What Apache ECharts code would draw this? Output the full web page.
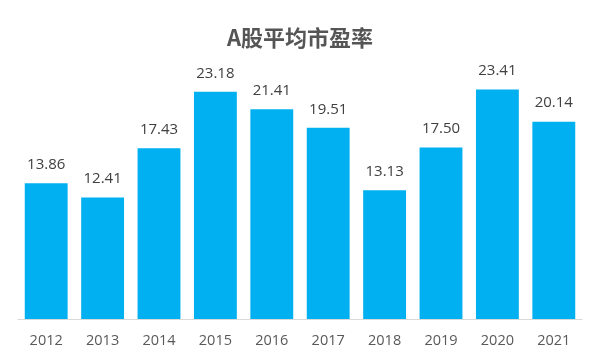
<!DOCTYPE html>
<html><head><meta charset="utf-8">
<script src="https://cdn.jsdelivr.net/npm/echarts@6/dist/echarts.min.js"></script>
<style>html,body{margin:0;padding:0;background:#fff}#c{width:600px;height:360px}</style>
</head><body><div id="c"></div>
<script>
const titleText = 'A股平均市盈率';
const categories = ['2012','2013','2014','2015','2016','2017','2018','2019','2020','2021'];
const values = [13.86, 12.41, 17.43, 23.18, 21.41, 19.51, 13.13, 17.50, 23.41, 20.14];

const chart = echarts.init(document.getElementById('c'));
chart.setOption({
  animation: false,
  title: {
    text: titleText, left: 'center', top: 22,
    textStyle: {fontFamily: '"Noto Sans CJK SC", sans-serif', fontWeight: 'bold', fontSize: 22, color: '#555555'}
  },
  grid: {left: 18, right: 18, top: 74, bottom: 41},
  xAxis: {
    type: 'category', data: categories,
    axisLine: {lineStyle: {color: '#d9d9d9', width: 1}},
    axisTick: {show: false},
    axisLabel: {color: '#595959', fontSize: 14.5, margin: 14, fontFamily: '"Open Sans", sans-serif'}
  },
  yAxis: {type: 'value', min: 0, max: 25, show: false, splitLine: {show: false}},
  series: [{
    type: 'bar', data: values, barWidth: '76%',
    itemStyle: {color: '#00B0F0'},
    label: {show: true, position: 'top', distance: 11, color: '#404040', fontSize: 15,
      fontFamily: '"Open Sans", sans-serif',
      formatter: p => p.value.toFixed(2)}
  }]
});
</script></body></html>
